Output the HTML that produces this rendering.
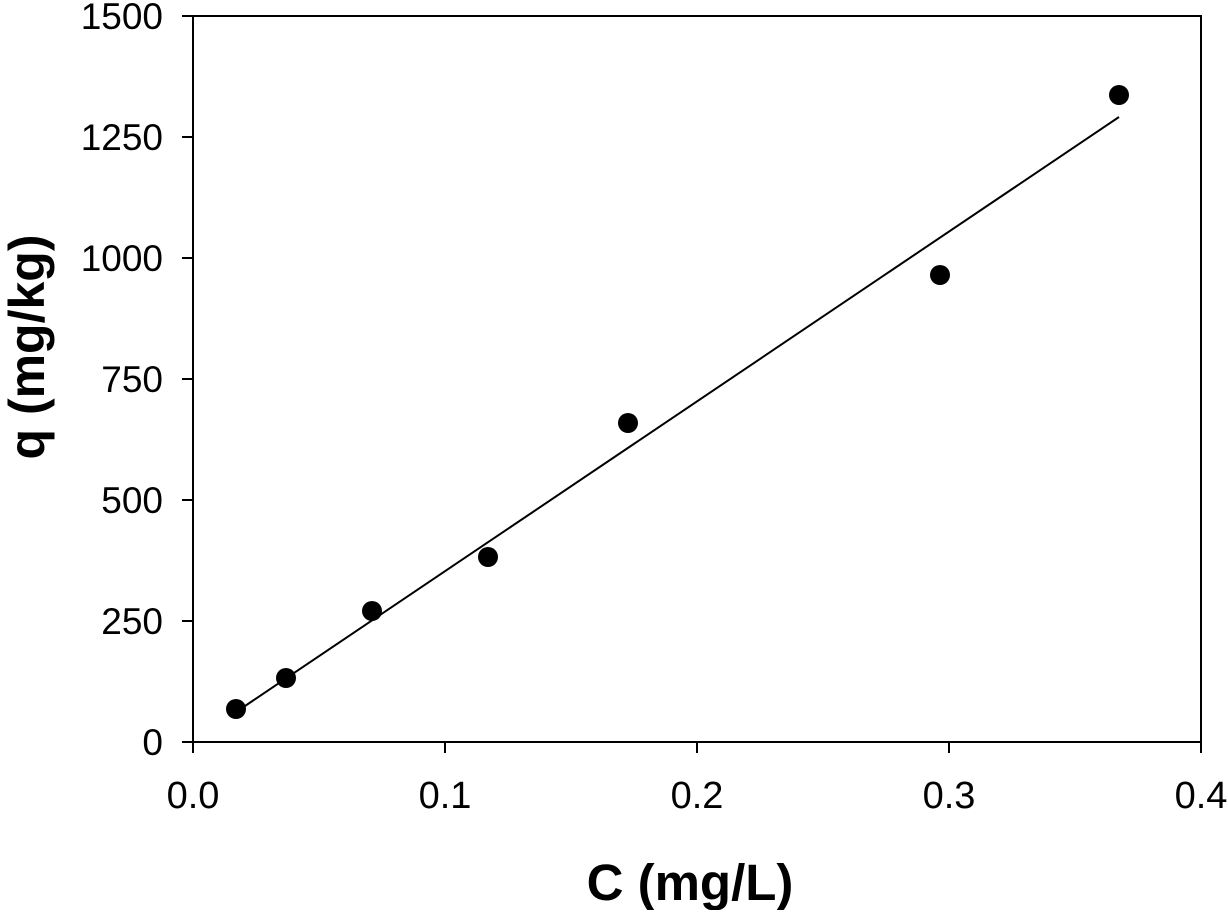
<!DOCTYPE html>
<html><head><style>body{margin:0;background:#fff}</style></head><body>
<svg width="1228" height="910" xmlns="http://www.w3.org/2000/svg" font-family="Liberation Sans, sans-serif">
<rect x="193" y="16" width="1008" height="726" fill="none" stroke="#000" stroke-width="2"/>
<g stroke="#000" stroke-width="2">
<line x1="182" y1="16" x2="193" y2="16"/><line x1="182" y1="137" x2="193" y2="137"/>
<line x1="182" y1="258" x2="193" y2="258"/><line x1="182" y1="379" x2="193" y2="379"/>
<line x1="182" y1="500" x2="193" y2="500"/><line x1="182" y1="621" x2="193" y2="621"/>
<line x1="182" y1="742" x2="193" y2="742"/>
<line x1="193" y1="742" x2="193" y2="753"/><line x1="445" y1="742" x2="445" y2="753"/>
<line x1="697" y1="742" x2="697" y2="753"/><line x1="949" y1="742" x2="949" y2="753"/>
<line x1="1201" y1="742" x2="1201" y2="753"/>
</g>
<g font-size="37" text-anchor="end">
<text x="163" y="29">1500</text><text x="163" y="150">1250</text><text x="163" y="271">1000</text>
<text x="163" y="392">750</text><text x="163" y="513">500</text><text x="163" y="634">250</text><text x="163" y="755">0</text>
</g>
<g font-size="38" text-anchor="middle">
<text x="193" y="808">0.0</text><text x="445" y="808">0.1</text><text x="697" y="808">0.2</text>
<text x="949" y="808">0.3</text><text x="1201" y="808">0.4</text>
</g>
<text x="690" y="900" font-size="51" font-weight="bold" text-anchor="middle">C (mg/L)</text>
<text transform="translate(44,347) rotate(-90)" font-size="50" font-weight="bold" text-anchor="middle">q (mg/kg)</text>
<line x1="245" y1="706" x2="1119" y2="117" stroke="#000" stroke-width="2"/>
<g fill="#000">
<circle cx="236" cy="709" r="10"/><circle cx="286" cy="678" r="10"/><circle cx="372" cy="611" r="10"/>
<circle cx="488" cy="557" r="10"/><circle cx="628" cy="423" r="10"/><circle cx="940" cy="275" r="10"/>
<circle cx="1119" cy="95" r="10"/>
</g>
</svg>
</body></html>
